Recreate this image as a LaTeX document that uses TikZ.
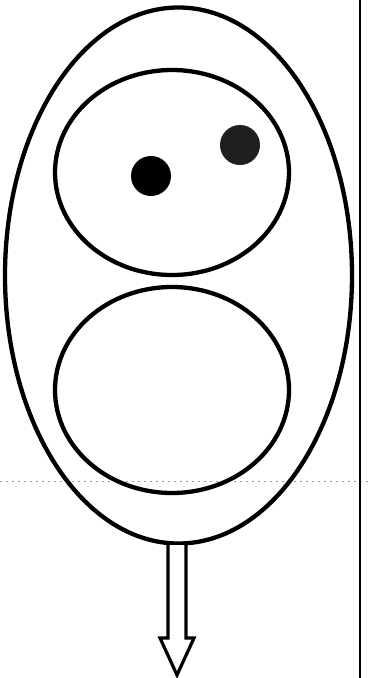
\documentclass[tikz,border=0pt]{standalone}
\begin{document}
\begin{tikzpicture}[x=1pt,y=-1pt,
  outline/.style={draw=black,line width=4.3pt},
  dot/.style={fill=black},
  rule/.style={draw=black,line width=1.5pt},
  dots/.style={draw=black!40,line width=1pt,dash pattern=on 1.5pt off 4.5pt},
  hollowarrow/.style={draw=black,line width=3.2pt,fill=white,line join=miter}]
\useasboundingbox (0,0) rectangle (371,678);
\draw[dots] (0,481) -- (371,481);
\draw[rule] (360,0) -- (360,678);
\draw[outline] (178.5,275.5) ellipse [x radius=173.5, y radius=268];
\draw[outline] (172,172.5) ellipse [x radius=117, y radius=102.5];
\draw[outline] (172,390) ellipse [x radius=117, y radius=103];
\fill[dot] (151,176) circle [radius=20];
\fill[black!88] (240,145) circle [radius=20];
\coordinate (sl) at (168,545);
\coordinate (sr) at (186,545);
\draw[hollowarrow] (sl) -- (168,638) -- (160,638) -- (177,675) -- (194,638) -- (186,638) -- (sr);
\end{tikzpicture}
\end{document}
